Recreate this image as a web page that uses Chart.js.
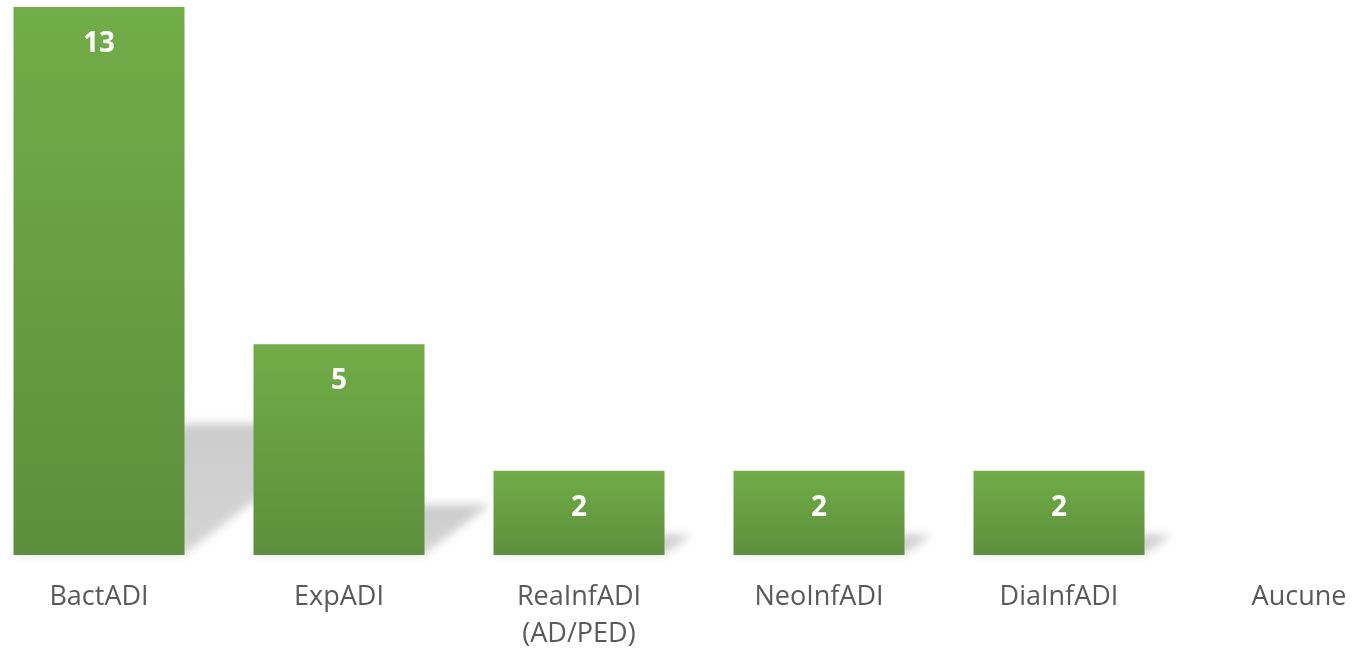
<!DOCTYPE html>
<html lang="fr">
<head>
<meta charset="utf-8">
<script src="https://cdn.jsdelivr.net/npm/chart.js@4.4.1/dist/chart.umd.min.js"></script>
<style>
  html, body { margin: 0; padding: 0; background: #fff; overflow: hidden; }
  #wrap { position: absolute; left: -21px; top: 0; width: 1440px; height: 652px; }
</style>
</head>
<body>
<div id="wrap">
  <canvas id="chart" width="1440" height="652"></canvas>
</div>
<script>
  var categories = ["BactADI", "ExpADI", ["ReaInfADI", "(AD/PED)"], "NeoInfADI", "DiaInfADI", "Aucune"];
  var counts = [13, 5, 2, 2, 2, 0];

  // fake perspective shadow behind each bar, taken from the bar elements
  var shadowPlugin = {
    id: 'barShadow',
    beforeDatasetsDraw: function (chart) {
      var ctx = chart.ctx;
      var meta = chart.getDatasetMeta(0);
      meta.data.forEach(function (bar) {
        var h = bar.base - bar.y;
        if (!(h > 0)) return;
        var left = bar.x - bar.width / 2, right = bar.x + bar.width / 2;
        var dy = h * 0.24, dx = dy * 1.3;
        ctx.save();
        ctx.filter = 'blur(5px)';
        var g = ctx.createLinearGradient(0, bar.base, 0, bar.base - dy);
        g.addColorStop(0, 'rgba(0,0,0,0.17)');
        g.addColorStop(1, 'rgba(0,0,0,0.20)');
        ctx.fillStyle = g;
        ctx.beginPath();
        ctx.moveTo(left, bar.base - 1);
        ctx.lineTo(right, bar.base - 1);
        ctx.lineTo(right + dx, bar.base - dy);
        ctx.lineTo(left + dx, bar.base - dy);
        ctx.closePath();
        ctx.fill();
        ctx.restore();
      });
    }
  };

  // white value labels near the top of each bar
  var valuePlugin = {
    id: 'barValues',
    afterDatasetsDraw: function (chart) {
      var ctx = chart.ctx;
      var meta = chart.getDatasetMeta(0);
      ctx.save();
      ctx.font = 'bold 28px "Open Sans"';
      ctx.fillStyle = '#ffffff';
      ctx.textAlign = 'center';
      ctx.textBaseline = 'middle';
      meta.data.forEach(function (bar, i) {
        if (!counts[i]) return;
        ctx.fillText(String(counts[i]), bar.x, bar.y + 37);
      });
      ctx.restore();
    }
  };

  function barFill(context) {
    var chart = context.chart;
    var y = chart.scales.y;
    if (!y) return '#6AA443';
    var v = counts[context.dataIndex] || 0;
    var top = y.getPixelForValue(v), bottom = y.getPixelForValue(0);
    if (!isFinite(top) || !isFinite(bottom) || bottom - top < 1) return '#6AA443';
    var g = chart.ctx.createLinearGradient(0, top, 0, bottom);
    g.addColorStop(0, '#71AD48');
    g.addColorStop(1, '#5C8F3B');
    return g;
  }

  new Chart(document.getElementById('chart').getContext('2d'), {
    type: 'bar',
    data: {
      labels: categories,
      datasets: [{
        data: counts,
        backgroundColor: barFill,
        borderWidth: 0,
        barPercentage: 0.7125,
        categoryPercentage: 1.0
      }]
    },
    options: {
      responsive: false,
      animation: false,
      layout: { padding: { top: 7, left: 0, right: 0, bottom: 0 } },
      plugins: {
        legend: { display: false },
        tooltip: { enabled: false }
      },
      scales: {
        x: {
          grid: { display: false, drawTicks: false },
          border: { display: false },
          afterFit: function (scale) { scale.height = 97; },
          ticks: {
            color: '#595959',
            padding: 23,
            maxRotation: 0,
            autoSkip: false,
            font: { family: '"Open Sans"', size: 27, lineHeight: 1.4 }
          }
        },
        y: {
          display: false,
          min: 0,
          max: 13
        }
      }
    },
    plugins: [shadowPlugin, valuePlugin]
  });
</script>
</body>
</html>
